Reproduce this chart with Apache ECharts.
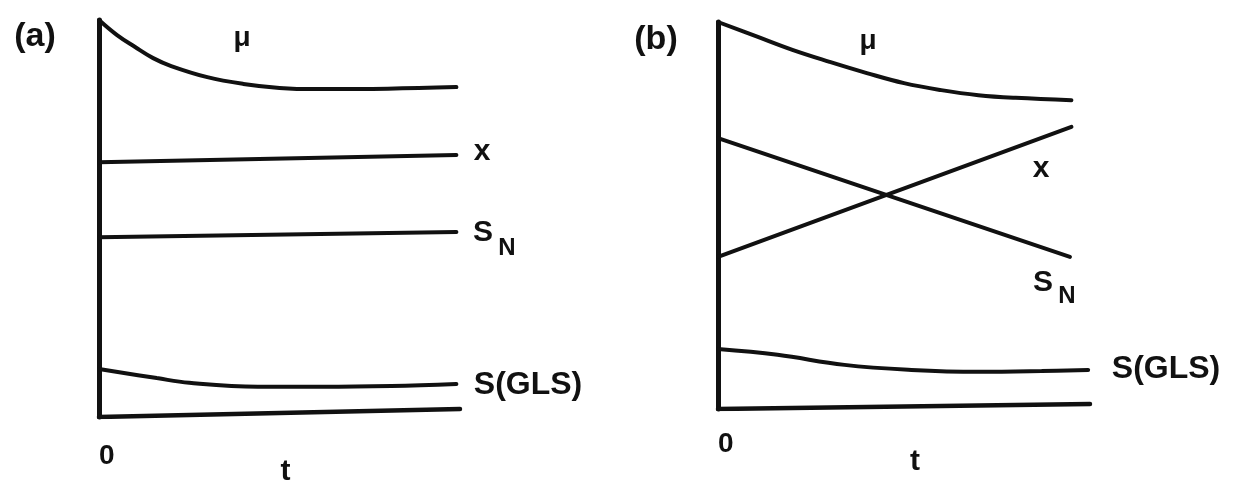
<!DOCTYPE html>
<html>
<head>
<meta charset="utf-8">
<title>mu, x, S_N, S(GLS) vs t</title>
<script src="https://cdn.jsdelivr.net/npm/echarts@6/dist/echarts.min.js"></script>
<style>
  html, body { margin: 0; padding: 0; background: #fff; }
  #chart { width: 1234px; height: 480px; }
</style>
</head>
<body>
<div id="chart"></div>
<script>
// values, y in % of panel height above the t axis

// panel (a)
const muA_t = [0, 0.5, 1, 1.5, 2, 3, 4, 5, 6, 8, 9.9];
const muA = [100, 96.2, 93.2, 90.4, 88.4, 85.6, 83.9, 82.9, 82.6, 82.7, 83.1];
const xA_t = [0, 9.9];
const xA = [64.2, 66.0];
const snA_t = [0, 9.9];
const snA = [45.3, 46.6];
const glsA_t = [0, 1.6, 2.5, 4.4, 6.2, 8.1, 9.9];
const glsA = [12.1, 9.8, 8.6, 7.6, 7.6, 7.8, 8.3];
const baseA_t = [0, 10];
const baseA = [0, 2.0];

// panel (b)
const muB_t = [0, 1, 2, 3, 4, 5, 6, 7, 8, 9.5];
const muB = [100, 96.4, 92.8, 89.7, 86.8, 84.2, 82.4, 81.1, 80.4, 79.8];
const xB_t = [0, 9.5];
const xB = [39.3, 72.9];
const snB_t = [0, 9.46];
const snB = [70.0, 39.3];
const glsB_t = [0, 1.6, 3.4, 5.2, 7, 8.7, 9.95];
const glsB = [15.5, 14.0, 11.4, 10.1, 9.6, 9.8, 10.1];
const baseB_t = [0, 10];
const baseB = [0, 1.3];

const INK = '#111';
const FONT = '"Liberation Sans", Arial, sans-serif';

const pairs = (ts, vs) => ts.map((t, i) => [t, vs[i]]);

const line = (name, idx, ts, vs, smooth, width) => ({
    name: name,
    type: 'line',
    xAxisIndex: idx,
    yAxisIndex: idx,
    data: pairs(ts, vs),
    symbol: 'none',
    smooth: smooth ? 0.4 : false,
    lineStyle: { color: INK, width: width || 4, cap: 'round' },
    silent: true
});

const xAxisFor = (idx, margin, gap, padLeft) => ({
    type: 'value',
    gridIndex: idx,
    min: 0,
    max: 10,
    axisLine: { show: false },
    axisTick: { show: false },
    splitLine: { show: false },
    axisLabel: {
        margin: margin,
        formatter: v => (v === 0 ? '0' : ''),
        color: INK,
        fontFamily: FONT,
        fontWeight: 'bold',
        fontSize: 28,
        align: 'left'
    },
    name: 't',
    nameLocation: 'middle',
    nameGap: gap,
    nameMoveOverlap: false,
    nameTextStyle: {
        color: INK,
        fontFamily: FONT,
        fontWeight: 'bold',
        fontSize: 30,
        padding: [0, 0, 0, padLeft]
    }
});

const yAxisFor = (idx) => ({
    type: 'value',
    gridIndex: idx,
    min: 0,
    max: 100,
    axisLine: { show: true, lineStyle: { color: INK, width: 5 } },
    axisTick: { show: false },
    axisLabel: { show: false },
    splitLine: { show: false }
});

const txt = (text, x, y, size) => ({
    type: 'text',
    x: x,
    y: y,
    silent: true,
    style: {
        text: text,
        font: 'bold ' + size + 'px ' + FONT,
        fill: INK,
        textAlign: 'center',
        textVerticalAlign: 'middle',
        align: 'center',
        verticalAlign: 'middle'
    }
});

const chart = echarts.init(document.getElementById('chart'));

chart.setOption({
    backgroundColor: '#fff',
    animation: false,
    grid: [
        { left: 99, top: 20, width: 361, height: 397, outerBoundsMode: 'none', containLabel: false },
        { left: 718, top: 22, width: 372, height: 387, outerBoundsMode: 'none', containLabel: false }
    ],
    xAxis: [xAxisFor(0, 25, 40, 12), xAxisFor(1, 21, 38, 22)],
    yAxis: [yAxisFor(0), yAxisFor(1)],
    series: [
        line('μ (a)', 0, muA_t, muA, true),
        line('x (a)', 0, xA_t, xA, false),
        line('S_N (a)', 0, snA_t, snA, false),
        line('S(GLS) (a)', 0, glsA_t, glsA, true),
        line('axis (a)', 0, baseA_t, baseA, false, 4.5),
        line('μ (b)', 1, muB_t, muB, true),
        line('x (b)', 1, xB_t, xB, false),
        line('S_N (b)', 1, snB_t, snB, false),
        line('S(GLS) (b)', 1, glsB_t, glsB, true),
        line('axis (b)', 1, baseB_t, baseB, false, 4.5)
    ],
    graphic: [
        txt('(a)', 35, 37, 34),
        txt('μ', 242, 38, 28),
        txt('x', 482, 152, 30),
        txt('S', 483, 233, 30),
        txt('N', 507, 248, 24),
        txt('S(GLS)', 528, 385, 32),

        txt('(b)', 656, 40, 34),
        txt('μ', 868, 41, 28),
        txt('x', 1041, 169, 30),
        txt('S', 1043, 283, 30),
        txt('N', 1067, 296, 24),
        txt('S(GLS)', 1166, 369, 32)
    ]
});

window.addEventListener('resize', () => chart.resize());
</script>
</body>
</html>
